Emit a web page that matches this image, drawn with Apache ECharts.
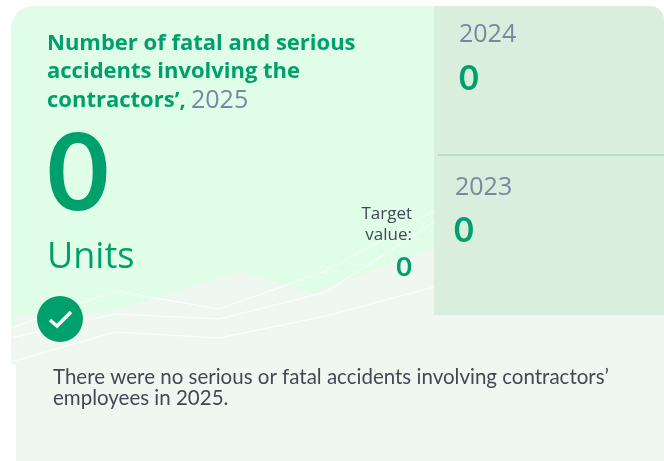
<!DOCTYPE html>
<html>
<head>
<meta charset="utf-8">
<style>
html,body{margin:0;padding:0;background:#fff;}
#main{width:664px;height:461px;}
</style>
<script src="https://cdn.jsdelivr.net/npm/echarts@6/dist/echarts.min.js"></script>
</head>
<body>
<div id="main"></div>
<script>
// kpi values
var years = ['2025', '2024', '2023'];
var yearValues = [0, 0, 0];
var targetValue = 0;
var unitName = 'Units';
var titleLines = ['Number of fatal and serious', 'accidents involving the', 'contractors’,'];
var targetLines = ['Target', 'value:'];
var noteLines = ['There were no serious or fatal accidents involving contractors’', 'employees in 2025.'];

// decorative background lines
var lineX = [0, 104, 208, 315, 423];
var line1 = [42, 79, 61, 99, 159];
var line2 = [32, 56, 51, 78, 148];
var line3 = [8, 38, 32, 54, 83];
var hillX = [5, 99, 229, 301, 423];
var hill = [54, 58, 99, 77, 122];

var GREEN = '#00a06c';
var GREY = '#7a87a4';
var FONT = 'Open Sans';

function zip(xs, ys) {
	var out = [];
	for (var i = 0; i < xs.length; i++) {
		out.push([xs[i], ys[i]]);
	}
	return out;
}

function label(x, y, text, size, color, weight, align, family) {
	return {
		type: 'text', x: x, y: y, z: 20,
		style: {
			text: text, fontSize: size, fill: color,
			fontWeight: weight || 'normal', fontFamily: family || FONT,
			textAlign: align || 'left', textVerticalAlign: 'middle'
		}
	};
}

function whiteLine(data) {
	return {
		type: 'line', data: zip(lineX, data), showSymbol: false, silent: true, z: 5,
		lineStyle: { color: '#ffffff', width: 1 }
	};
}

var graphics = [
	{ type: 'rect', z: -10, shape: { x: 11, y: 6, width: 423, height: 358, r: [22, 0, 0, 0] }, style: { fill: '#e0fde8' } },
	{ type: 'rect', z: -9, shape: { x: 11, y: 324, width: 5, height: 40 }, style: { fill: '#eef8f1' } },
	{ type: 'rect', z: -9, shape: { x: 16, y: 364, width: 648, height: 97 }, style: { fill: '#eef8f1' } },
	{ type: 'rect', z: -9, shape: { x: 434, y: 315, width: 230, height: 50 }, style: { fill: '#eef8f1' } },
	{ type: 'rect', z: -8, shape: { x: 434, y: 6, width: 230, height: 309, r: [0, 14, 0, 0] }, style: { fill: '#d9eedc' } },
	{ type: 'rect', z: 10, shape: { x: 438, y: 154, width: 226, height: 2 }, style: { fill: '#b9dfc5' } },
	{ type: 'circle', z: 20, shape: { cx: 60, cy: 319, r: 23 }, style: { fill: GREEN } },
	{ type: 'polyline', z: 21, shape: { points: [[50, 320], [57, 326], [71, 312]] }, style: { stroke: '#eef8f1', lineWidth: 3.5, fill: null } },
	label(47, 44, titleLines[0], 22, GREEN, 'bold'),
	label(47, 72, titleLines[1], 22, GREEN, 'bold'),
	label(47, 101, titleLines[2], 22, GREEN, 'bold'),
	label(191, 101, years[0], 25, GREY),
	label(47, 175, String(yearValues[0]), 107, GREEN, 'bold', 'left', 'Lato'),
	label(47, 258, unitName, 36, GREEN),
	label(412, 214, targetLines[0], 17, '#414a52', 'normal', 'right'),
	label(412, 235, targetLines[1], 17, '#414a52', 'normal', 'right'),
	label(412, 267, String(targetValue), 27, GREEN, 'bold', 'right', 'Lato'),
	label(459, 35, years[1], 25, GREY),
	label(459, 79, String(yearValues[1]), 34, GREEN, 'bold', 'left', 'Lato'),
	label(455, 188, years[2], 25, GREY),
	label(454, 231, String(yearValues[2]), 34, GREEN, 'bold', 'left', 'Lato'),
	label(53, 377, noteLines[0], 20.5, '#414a52', 'normal', 'left', 'Lato'),
	label(53, 398, noteLines[1], 20.5, '#414a52', 'normal', 'left', 'Lato')
];

var myChart = echarts.init(document.getElementById('main'));
var option = {
	animation: false,
	backgroundColor: 'transparent',
	grid: { left: 11, top: 200, width: 423, height: 170 },
	xAxis: { type: 'value', min: 0, max: 423, show: false },
	yAxis: { type: 'value', min: 0, max: 170, show: false },
	series: [
		{
			type: 'line', data: zip(hillX, hill), showSymbol: false, silent: true, z: 2,
			lineStyle: { width: 0 },
			areaStyle: { color: '#eef8f1', origin: 'start', opacity: 1 }
		},
		whiteLine(line1),
		whiteLine(line2),
		whiteLine(line3)
	],
	graphic: graphics
};
myChart.setOption(option);
</script>
</body>
</html>
